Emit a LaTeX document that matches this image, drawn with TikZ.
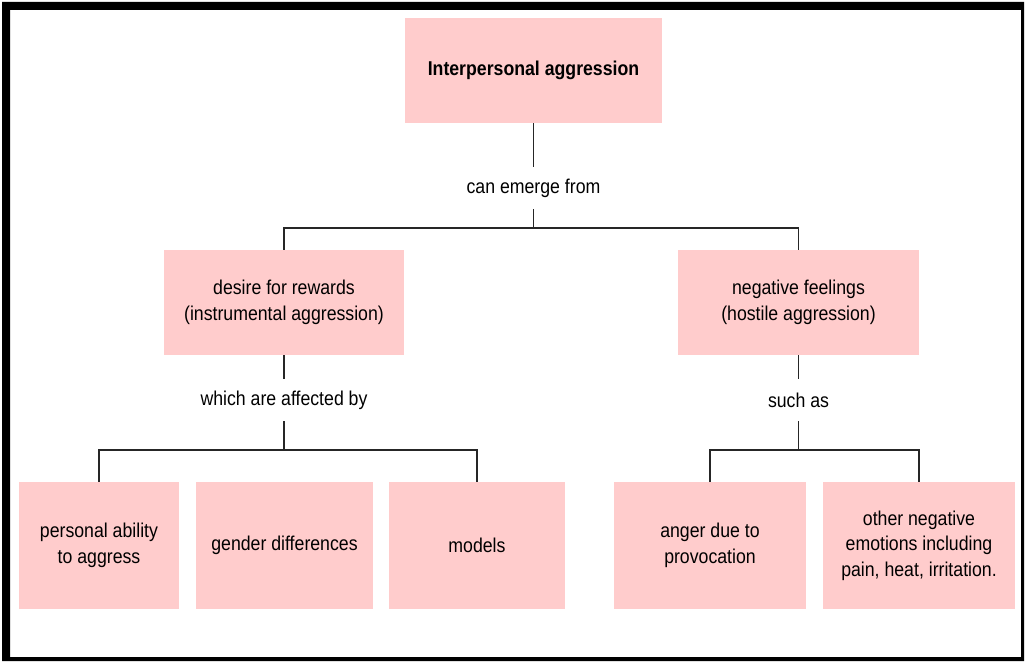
\documentclass[tikz,border=0pt]{standalone}
\usepackage{fontspec}
\setmainfont{Liberation Sans}[FakeStretch=0.885]
\definecolor{boxpink}{HTML}{FFCCCC}
\newcommand{\mapfont}{\fontsize{20}{25.5}\selectfont}

\begin{document}
\begin{tikzpicture}[x=1pt, y=-1pt, every node/.style={font=\mapfont},
		box/.style={fill=boxpink, align=center, inner sep=0pt, minimum height=105pt},
		leaf/.style={box, minimum height=127pt},
		lbl/.style={inner sep=0pt, minimum height=42pt},
		link/.style={line width=1.6pt, draw=black!85}]
			\useasboundingbox (0,0) rectangle (1026,663);

			% Frame
			\fill[black, even odd rule] (2,2) rectangle (1024,661) (10,10) rectangle (1021,657);

			% Concepts
			\node[box, minimum width=257pt, font=\mapfont\bfseries] (aggr) at (533.5,70.5) {Interpersonal aggression};
			\node[box, minimum width=240pt] (rewards) at (284,302.5) {desire for rewards\\(instrumental aggression)};
			\node[box, minimum width=241pt] (feelings) at (798.5,302.5) {negative feelings\\(hostile aggression)};
			\node[leaf, minimum width=160pt] (ability) at (99,545.5) {personal ability\\to aggress};
			\node[leaf, minimum width=177pt] (gender) at (284.5,545.5) {gender differences};
			\node[leaf, minimum width=176pt] (models) at (477,545.5) {models};
			\node[leaf, minimum width=192pt] (anger) at (710,545.5) {anger due to\\provocation};
			\node[leaf, minimum width=192pt] (other) at (919,545.5) {other negative\\emotions including\\pain, heat, irritation.};

			% Linking phrases
			\node[lbl] (emerge) at (533.5,188) {can emerge from};
			\node[lbl] (affected) at (284,400) {which are affected by};
			\node[lbl] (suchas) at (798.5,400) {such as};

			% Junctions
			\coordinate (j1) at (533.5,228);
			\coordinate (j2) at (284,450);
			\coordinate (j3) at (798.5,450);

			% Connectors
			\draw[link] (aggr.south) -- (emerge);
			\draw[link] (emerge) -- (j1);
			\draw[link] (rewards.north) |- (j1) -| (feelings.north);
			\draw[link] (rewards) -- (affected);
			\draw[link] (affected) -- (j2);
			\draw[link] (ability.north) |- (j2) -| (models.north);
			\draw[link] (feelings) -- (suchas);
			\draw[link] (suchas) -- (j3);
			\draw[link] (anger.north) |- (j3) -| (other.north);
		\end{tikzpicture}
\end{document}
